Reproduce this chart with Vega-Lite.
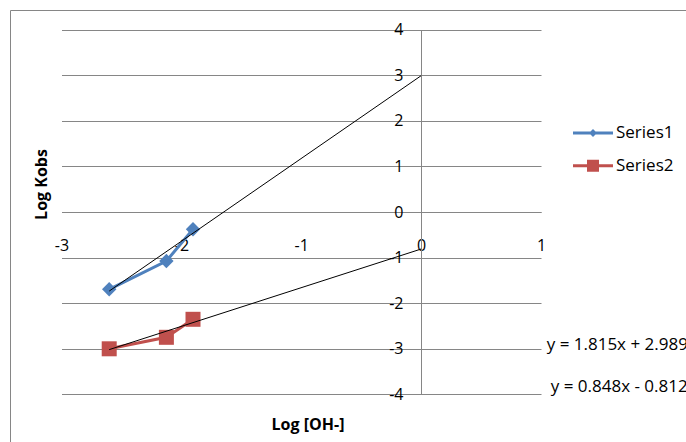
{
  "$schema": "https://vega.github.io/schema/vega-lite/v6.json",
  "width": 676,
  "height": 432,
  "autosize": {"type": "none"},
  "padding": {"left": 10, "top": 10, "right": 0, "bottom": 0},
  "background": "white",
  "config": {
    "view": {"stroke": "#868686", "strokeWidth": 1, "strokeDash": [676, 1108, 432, 0]},
    "font": "Open Sans",
    "legend": {
      "orient": "none",
      "padding": 0,
      "symbolSize": 1600,
      "symbolStrokeWidth": 0,
      "symbolOpacity": 1,
      "labelOffset": 3,
      "labelFont": "Open Sans",
      "labelFontSize": 17,
      "labelColor": "#000000"
    }
  },
  "datasets": {
    "obs": [
      {"logOH": -2.602, "logKobs": -1.695, "series": "Series1"},
      {"logOH": -2.125, "logKobs": -1.075, "series": "Series1"},
      {"logOH": -1.903, "logKobs": -0.379, "series": "Series1"},
      {"logOH": -2.602, "logKobs": -3.0, "series": "Series2"},
      {"logOH": -2.125, "logKobs": -2.748, "series": "Series2"},
      {"logOH": -1.903, "logKobs": -2.353, "series": "Series2"}
    ],
    "trend": [
      {"logOH": -2.602, "logKobs": -1.734, "series": "Series1"},
      {"logOH": 0, "logKobs": 2.989, "series": "Series1"},
      {"logOH": -2.602, "logKobs": -3.018, "series": "Series2"},
      {"logOH": 0, "logKobs": -0.812, "series": "Series2"}
    ],
    "eqs": [
      {"logOH": 1.0475, "logKobs": -2.917, "label": "y = 1.815x + 2.989"},
      {"logOH": 1.081, "logKobs": -3.83, "label": "y = 0.848x - 0.812"}
    ]
  },
  "encoding": {
    "x": {
      "field": "logOH",
      "type": "quantitative",
      "scale": {"domain": [-3, 1], "range": [51.5, 531], "nice": false, "zero": false},
      "axis": {
        "title": "Log [OH-]",
        "orient": "bottom",
        "offset": -230,
        "grid": false,
        "ticks": false,
        "tickSize": 0,
        "values": [-3, -2, -1, 0, 1],
        "labelExpr": "datum.value < 0 ? '-' + abs(datum.value) : '' + datum.value",
        "domainColor": "#868686",
        "domainWidth": 1,
        "labelFont": "Open Sans",
        "labelFontSize": 16,
        "labelColor": "#000000",
        "labelPadding": 33,
        "labelBaseline": "middle",
        "labelFlush": false,
        "labelOverlap": false,
        "titleFont": "Open Sans",
        "titleFontSize": 16,
        "titleFontWeight": "bold",
        "titleColor": "#000000",
        "titleX": 297.5,
        "titleY": 212,
        "titleBaseline": "middle",
        "titleAlign": "center"
      }
    },
    "y": {
      "field": "logKobs",
      "type": "quantitative",
      "scale": {"domain": [-4, 4], "range": [384.4, 19.6], "nice": false, "zero": false},
      "axis": {
        "title": "Log Kobs",
        "orient": "left",
        "offset": -411,
        "grid": true,
        "gridColor": "#868686",
        "gridWidth": 1,
        "ticks": false,
        "tickSize": 0,
        "values": [-4, -3, -2, -1, 0, 1, 2, 3, 4],
        "labelExpr": "datum.value < 0 ? '-' + abs(datum.value) : '' + datum.value",
        "domainColor": "#868686",
        "domainWidth": 1,
        "labelFont": "Open Sans",
        "labelFontSize": 16,
        "labelColor": "#000000",
        "labelPadding": 18,
        "labelBaseline": "middle",
        "labelAlign": "right",
        "labelFlush": false,
        "labelOverlap": false,
        "titleFont": "Open Sans",
        "titleFontSize": 16,
        "titleFontWeight": "bold",
        "titleColor": "#000000",
        "titleX": -380,
        "titleY": 174,
        "titleAngle": 270,
        "titleBaseline": "middle",
        "titleAlign": "center"
      }
    }
  },
  "resolve": {"legend": {"color": "independent"}},
  "layer": [
    {
      "data": {"name": "obs"},
      "mark": {"type": "line", "strokeWidth": 3},
      "encoding": {
        "color": {
          "field": "series",
          "type": "nominal",
          "scale": {"domain": ["Series1", "Series2"], "range": ["#4F81BD", "#C0504D"]},
          "legend": null
        }
      }
    },
    {
      "data": {"name": "obs"},
      "transform": [{"filter": "datum.series === 'Series1'"}],
      "mark": {"type": "point", "filled": true, "opacity": 1, "strokeWidth": 0, "size": 144, "shape": "M0,-1.2L1.2,0L0,1.2L-1.2,0Z"},
      "encoding": {
        "color": {
          "field": "series",
          "type": "nominal",
          "legend": {
            "title": null,
            "values": ["Series1"],
            "legendX": 563,
            "legendY": 103,
            "symbolType": "M-1,-0.075H1V0.075H-1Z M0,-0.2L0.2,0L0,0.2L-0.2,0Z"
          }
        }
      }
    },
    {
      "data": {"name": "obs"},
      "transform": [{"filter": "datum.series === 'Series2'"}],
      "mark": {"type": "point", "filled": true, "opacity": 1, "strokeWidth": 0, "size": 144, "shape": "M-1.25,-1.25H1.25V1.25H-1.25Z"},
      "encoding": {
        "color": {
          "field": "series",
          "type": "nominal",
          "legend": {
            "title": null,
            "values": ["Series2"],
            "legendX": 563,
            "legendY": 135.7,
            "symbolType": "M-1,-0.075H1V0.075H-1Z M-0.3,-0.3H0.3V0.3H-0.3Z"
          }
        }
      }
    },
    {
      "data": {"name": "trend"},
      "mark": {"type": "line", "strokeWidth": 1, "color": "#000000"},
      "encoding": {
        "detail": {"field": "series", "type": "nominal"}
      }
    },
    {
      "data": {"name": "eqs"},
      "mark": {"type": "text", "align": "left", "baseline": "middle", "font": "Open Sans", "fontSize": 17, "color": "#000000"},
      "encoding": {
        "text": {"field": "label", "type": "nominal"}
      }
    }
  ]
}
